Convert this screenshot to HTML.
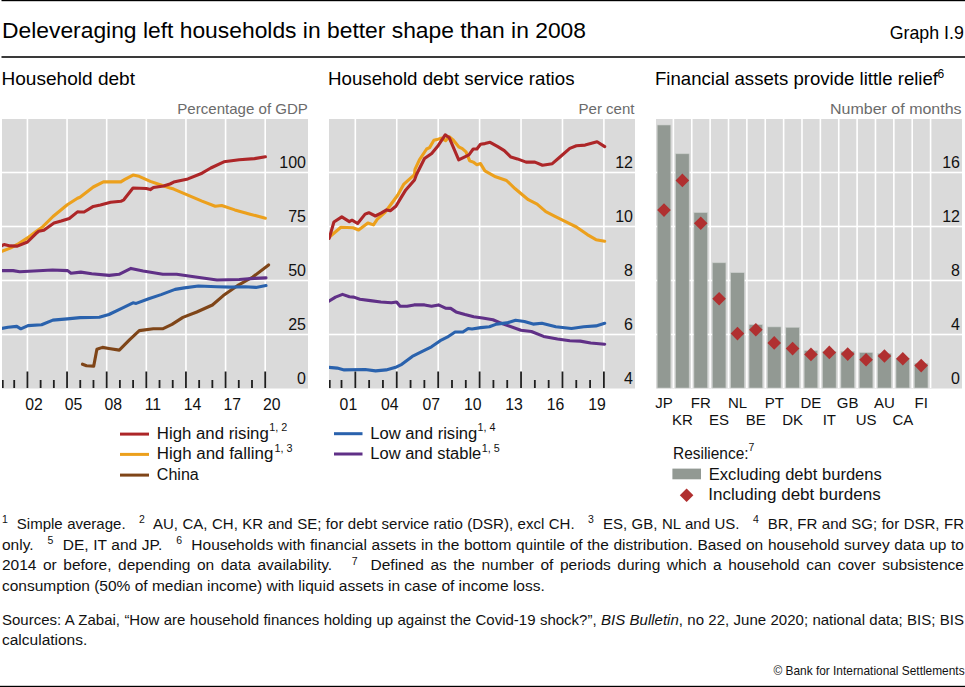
<!DOCTYPE html>
<html><head><meta charset="utf-8"><title>Graph I.9</title><style>
html,body{margin:0;padding:0;background:#fff;}
body{width:965px;height:687px;position:relative;overflow:hidden;font-family:"Liberation Sans",sans-serif;color:#111;}
svg{position:absolute;left:0;top:0;font-family:"Liberation Sans",sans-serif;}
.fn{position:absolute;left:2px;width:962px;font-size:15px;line-height:20px;white-space:nowrap;}
.j{text-align:justify;text-align-last:justify;}
.fn sup{font-size:10.5px;vertical-align:0;position:relative;top:-5.5px;line-height:0;}
</style></head><body>
<svg width="965" height="687" viewBox="0 0 965 687"><defs><clipPath id="c2"><rect x="2" y="119" width="306" height="269.5"/></clipPath><clipPath id="c329"><rect x="329" y="119" width="306" height="269.5"/></clipPath></defs>
<rect x="1.5" y="0" width="963.5" height="1.2" fill="#000"/>
<rect x="1.5" y="56" width="963.5" height="2" fill="#3a3a3a"/>
<rect x="0" y="685.8" width="965" height="1.2" fill="#000"/>
<text x="2" y="38.2" font-size="22.8" fill="#000" textLength="584" lengthAdjust="spacingAndGlyphs">Deleveraging left households in better shape than in 2008</text>
<text x="963.8" y="39" font-size="17.8" fill="#000" text-anchor="end">Graph I.9</text>
<text x="1.5" y="84.8" font-size="18.4" fill="#000" textLength="133.5" lengthAdjust="spacingAndGlyphs">Household debt</text>
<text x="328" y="84.8" font-size="18.4" fill="#000" textLength="246.5" lengthAdjust="spacingAndGlyphs">Household debt service ratios</text>
<text x="655" y="85.2" font-size="18.4" fill="#000" textLength="283" lengthAdjust="spacingAndGlyphs">Financial assets provide little relief</text>
<text x="937.5" y="78" font-size="12" fill="#000">6</text>
<text x="177.3" y="113.8" font-size="14.8" fill="#6b6b6b" textLength="130.6" lengthAdjust="spacingAndGlyphs">Percentage of GDP</text>
<text x="578.5" y="113.8" font-size="14.8" fill="#6b6b6b" textLength="56" lengthAdjust="spacingAndGlyphs">Per cent</text>
<text x="830" y="113.8" font-size="14.8" fill="#6b6b6b" textLength="131.6" lengthAdjust="spacingAndGlyphs">Number of months</text>
<rect x="2" y="119" width="306" height="269.5" fill="#dadada"/>
<g clip-path="url(#c2)">
<rect x="2" y="171.7" width="306" height="1.6" fill="#fff"/>
<rect x="2" y="225.7" width="306" height="1.6" fill="#fff"/>
<rect x="2" y="279.7" width="306" height="1.6" fill="#fff"/>
<rect x="2" y="333.7" width="306" height="1.6" fill="#fff"/>
<rect x="26.62" y="119" width="1.6" height="269" fill="#fff"/>
<rect x="66.25" y="119" width="1.6" height="269" fill="#fff"/>
<rect x="105.88" y="119" width="1.6" height="269" fill="#fff"/>
<rect x="145.51" y="119" width="1.6" height="269" fill="#fff"/>
<rect x="185.14" y="119" width="1.6" height="269" fill="#fff"/>
<rect x="224.77" y="119" width="1.6" height="269" fill="#fff"/>
<rect x="264.40" y="119" width="1.6" height="269" fill="#fff"/>
<polyline points="82.5,364.2 86.5,365.8 93.7,366.1 96.9,349.3 102.5,347.4 108.9,348.5 119.3,350.1 129.7,339.7 139.3,330.6 153.3,328.8 162.6,328.8 172.0,324.4 182.9,317.4 196.8,312.0 212.4,305.0 223.3,295.6 238.8,284.8 252.8,277.0 268.6,264.9" fill="none" stroke="#7f4518" stroke-width="3.1" stroke-linejoin="round" stroke-linecap="round"/>
<polyline points="2.0,251.2 10.2,248.1 17.3,244.5 27.5,237.9 35.7,231.8 42.8,226.7 53.0,216.5 67.3,204.8 77.5,198.2 80.0,197.2 93.3,187.0 103.4,181.9 120.8,181.9 124.9,179.4 133.0,175.1 139.1,176.3 150.3,181.4 159.5,184.5 170.0,188.0 173.7,189.1 189.0,195.7 202.0,201.1 215.2,206.2 221.7,205.5 234.8,209.9 250.1,214.2 265.4,218.2" fill="none" stroke="#eca01c" stroke-width="3.1" stroke-linejoin="round" stroke-linecap="round"/>
<polyline points="2.0,245.6 4.1,244.5 10.2,245.9 17.3,246.1 27.5,242.0 35.7,233.8 38.7,231.3 43.8,230.3 54.0,223.1 61.2,221.1 69.3,218.5 77.5,211.9 80.0,212.0 84.1,212.0 93.3,206.4 100.4,204.9 110.6,202.3 120.8,201.3 123.8,199.8 133.0,188.0 146.3,188.5 150.3,189.6 153.4,187.5 163.6,186.0 170.0,184.0 173.7,182.1 187.9,178.9 202.0,173.2 210.8,168.0 223.9,161.8 239.2,159.7 254.5,158.6 265.4,156.8" fill="none" stroke="#ad2628" stroke-width="3.1" stroke-linejoin="round" stroke-linecap="round"/>
<polyline points="2.2,270.6 13.1,270.6 19.7,271.7 52.4,270.0 67.7,270.6 71.0,273.2 80.8,272.1 91.7,273.7 109.2,275.4 119.0,274.3 131.0,268.4 143.1,271.0 162.8,274.3 176.6,274.2 192.2,276.5 217.0,280.0 239.2,279.5 254.4,278.4 266.0,277.9" fill="none" stroke="#603087" stroke-width="3.1" stroke-linejoin="round" stroke-linecap="round"/>
<polyline points="1.6,328.5 8.0,327.2 16.8,326.4 20.8,328.8 28.0,325.6 41.6,324.8 52.9,320.1 67.3,318.9 80.1,317.6 99.3,317.3 108.9,314.5 121.7,308.4 133.0,302.8 136.2,303.4 148.7,298.8 161.1,294.6 175.1,289.4 184.4,287.9 198.4,286.0 217.0,286.8 231.0,287.1 245.0,286.8 255.9,287.4 266.0,285.5" fill="none" stroke="#2a62ad" stroke-width="3.1" stroke-linejoin="round" stroke-linecap="round"/>
<rect x="1.85" y="380" width="1.8" height="8" fill="#1e1e1e"/>
<rect x="13.31" y="380" width="1.8" height="8" fill="#1e1e1e"/>
<rect x="26.52" y="371.5" width="1.8" height="16.5" fill="#1e1e1e"/>
<rect x="39.73" y="380" width="1.8" height="8" fill="#1e1e1e"/>
<rect x="52.94" y="380" width="1.8" height="8" fill="#1e1e1e"/>
<rect x="66.15" y="371.5" width="1.8" height="16.5" fill="#1e1e1e"/>
<rect x="79.36" y="380" width="1.8" height="8" fill="#1e1e1e"/>
<rect x="92.57" y="380" width="1.8" height="8" fill="#1e1e1e"/>
<rect x="105.78" y="371.5" width="1.8" height="16.5" fill="#1e1e1e"/>
<rect x="118.99" y="380" width="1.8" height="8" fill="#1e1e1e"/>
<rect x="132.20" y="380" width="1.8" height="8" fill="#1e1e1e"/>
<rect x="145.41" y="371.5" width="1.8" height="16.5" fill="#1e1e1e"/>
<rect x="158.62" y="380" width="1.8" height="8" fill="#1e1e1e"/>
<rect x="171.83" y="380" width="1.8" height="8" fill="#1e1e1e"/>
<rect x="185.04" y="371.5" width="1.8" height="16.5" fill="#1e1e1e"/>
<rect x="198.25" y="380" width="1.8" height="8" fill="#1e1e1e"/>
<rect x="211.46" y="380" width="1.8" height="8" fill="#1e1e1e"/>
<rect x="224.67" y="371.5" width="1.8" height="16.5" fill="#1e1e1e"/>
<rect x="237.88" y="380" width="1.8" height="8" fill="#1e1e1e"/>
<rect x="251.09" y="380" width="1.8" height="8" fill="#1e1e1e"/>
<rect x="264.30" y="371.5" width="1.8" height="16.5" fill="#1e1e1e"/>
</g>
<text x="34.0" y="409.5" font-size="15.8" fill="#111" text-anchor="middle">02</text>
<text x="73.6" y="409.5" font-size="15.8" fill="#111" text-anchor="middle">05</text>
<text x="113.3" y="409.5" font-size="15.8" fill="#111" text-anchor="middle">08</text>
<text x="152.9" y="409.5" font-size="15.8" fill="#111" text-anchor="middle">11</text>
<text x="192.5" y="409.5" font-size="15.8" fill="#111" text-anchor="middle">14</text>
<text x="232.2" y="409.5" font-size="15.8" fill="#111" text-anchor="middle">17</text>
<text x="271.8" y="409.5" font-size="15.8" fill="#111" text-anchor="middle">20</text>
<text x="306" y="167.8" font-size="16" fill="#111" text-anchor="end">100</text>
<text x="306" y="221.8" font-size="16" fill="#111" text-anchor="end">75</text>
<text x="306" y="275.8" font-size="16" fill="#111" text-anchor="end">50</text>
<text x="306" y="329.8" font-size="16" fill="#111" text-anchor="end">25</text>
<text x="306" y="383.8" font-size="16" fill="#111" text-anchor="end">0</text>
<rect x="329" y="119" width="306" height="269.5" fill="#dadada"/>
<g clip-path="url(#c329)">
<rect x="329" y="171.7" width="306" height="1.6" fill="#fff"/>
<rect x="329" y="225.7" width="306" height="1.6" fill="#fff"/>
<rect x="329" y="279.7" width="306" height="1.6" fill="#fff"/>
<rect x="329" y="333.7" width="306" height="1.6" fill="#fff"/>
<rect x="354.52" y="119" width="1.6" height="269" fill="#fff"/>
<rect x="395.95" y="119" width="1.6" height="269" fill="#fff"/>
<rect x="437.38" y="119" width="1.6" height="269" fill="#fff"/>
<rect x="478.81" y="119" width="1.6" height="269" fill="#fff"/>
<rect x="520.24" y="119" width="1.6" height="269" fill="#fff"/>
<rect x="561.67" y="119" width="1.6" height="269" fill="#fff"/>
<rect x="603.10" y="119" width="1.6" height="269" fill="#fff"/>
<polyline points="330.5,235.7 330.6,236.0 340.9,227.2 353.0,227.8 358.6,230.0 367.9,223.0 373.5,224.9 377.2,219.3 384.7,212.7 390.3,205.3 397.8,195.0 403.6,184.4 414.5,174.6 415.0,169.4 419.4,159.9 426.6,149.0 429.6,147.6 433.9,140.3 436.8,139.6 441.2,138.1 445.6,140.6 449.2,136.6 452.8,139.6 458.7,146.8 462.3,148.7 466.0,151.9 469.6,160.7 473.2,162.1 476.9,164.7 480.5,163.6 484.9,170.9 495.6,176.8 506.5,180.5 515.2,188.8 528.3,199.7 537.1,204.1 545.8,211.7 554.5,216.1 567.6,222.6 576.4,227.0 587.3,234.6 596.0,239.7 604.7,241.2" fill="none" stroke="#eca01c" stroke-width="3.1" stroke-linejoin="round" stroke-linecap="round"/>
<polyline points="328.9,237.9 329.2,238.4 333.9,222.0 341.8,216.9 349.3,221.6 352.0,220.2 357.6,223.5 365.1,214.1 368.8,212.7 375.4,216.0 381.0,213.2 386.6,209.9 390.3,210.7 395.9,206.2 401.5,196.9 405.8,189.9 414.5,180.0 416.5,174.5 424.5,158.5 431.7,153.4 438.3,145.4 445.2,134.8 449.2,137.7 458.7,159.9 468.9,154.8 473.2,149.0 476.9,149.0 480.5,144.3 484.9,143.6 490.1,142.3 497.8,146.6 504.3,150.6 510.9,157.1 517.4,158.9 526.1,162.1 534.9,162.1 542.5,165.2 552.3,163.7 561.1,156.0 569.8,148.4 576.4,145.8 585.1,145.1 597.1,141.8 604.7,146.6" fill="none" stroke="#ad2628" stroke-width="3.1" stroke-linejoin="round" stroke-linecap="round"/>
<polyline points="328.8,301.1 335.5,297.1 342.5,294.4 349.4,296.7 353.8,297.1 359.9,299.3 370.4,300.6 380.9,302.0 391.4,302.7 396.6,302.0 400.1,306.3 407.1,306.3 414.1,304.9 424.5,304.9 431.5,306.3 438.5,304.9 445.5,308.1 450.7,308.4 456.0,311.9 465.0,314.5 473.7,316.8 482.5,318.0 492.9,319.8 503.4,324.1 520.9,330.2 531.4,331.5 543.6,336.4 557.5,339.0 569.8,340.7 580.2,341.1 590.7,343.0 604.7,344.2" fill="none" stroke="#603087" stroke-width="3.1" stroke-linejoin="round" stroke-linecap="round"/>
<polyline points="328.8,367.4 337.2,368.1 344.2,369.9 365.2,369.5 375.6,370.9 386.1,369.9 396.6,366.9 401.8,364.3 412.3,356.4 422.8,351.2 431.5,346.8 440.2,340.7 447.2,337.2 455.1,332.0 462.9,332.0 468.2,328.5 472.0,329.0 480.7,327.6 489.4,326.7 496.4,324.1 506.9,322.9 515.6,320.3 524.4,321.5 533.1,324.1 541.8,323.3 555.8,326.7 571.5,328.5 583.7,326.7 596.0,325.9 604.7,323.3" fill="none" stroke="#2a62ad" stroke-width="3.1" stroke-linejoin="round" stroke-linecap="round"/>
<rect x="328.85" y="380" width="1.8" height="8" fill="#1e1e1e"/>
<rect x="340.61" y="380" width="1.8" height="8" fill="#1e1e1e"/>
<rect x="354.42" y="371.5" width="1.8" height="16.5" fill="#1e1e1e"/>
<rect x="368.23" y="380" width="1.8" height="8" fill="#1e1e1e"/>
<rect x="382.04" y="380" width="1.8" height="8" fill="#1e1e1e"/>
<rect x="395.85" y="371.5" width="1.8" height="16.5" fill="#1e1e1e"/>
<rect x="409.66" y="380" width="1.8" height="8" fill="#1e1e1e"/>
<rect x="423.47" y="380" width="1.8" height="8" fill="#1e1e1e"/>
<rect x="437.28" y="371.5" width="1.8" height="16.5" fill="#1e1e1e"/>
<rect x="451.09" y="380" width="1.8" height="8" fill="#1e1e1e"/>
<rect x="464.90" y="380" width="1.8" height="8" fill="#1e1e1e"/>
<rect x="478.71" y="371.5" width="1.8" height="16.5" fill="#1e1e1e"/>
<rect x="492.52" y="380" width="1.8" height="8" fill="#1e1e1e"/>
<rect x="506.33" y="380" width="1.8" height="8" fill="#1e1e1e"/>
<rect x="520.14" y="371.5" width="1.8" height="16.5" fill="#1e1e1e"/>
<rect x="533.95" y="380" width="1.8" height="8" fill="#1e1e1e"/>
<rect x="547.76" y="380" width="1.8" height="8" fill="#1e1e1e"/>
<rect x="561.57" y="371.5" width="1.8" height="16.5" fill="#1e1e1e"/>
<rect x="575.38" y="380" width="1.8" height="8" fill="#1e1e1e"/>
<rect x="589.19" y="380" width="1.8" height="8" fill="#1e1e1e"/>
<rect x="603.00" y="371.5" width="1.8" height="16.5" fill="#1e1e1e"/>
</g>
<text x="348.4" y="409.5" font-size="15.8" fill="#111" text-anchor="middle">01</text>
<text x="389.8" y="409.5" font-size="15.8" fill="#111" text-anchor="middle">04</text>
<text x="431.3" y="409.5" font-size="15.8" fill="#111" text-anchor="middle">07</text>
<text x="472.7" y="409.5" font-size="15.8" fill="#111" text-anchor="middle">10</text>
<text x="514.1" y="409.5" font-size="15.8" fill="#111" text-anchor="middle">13</text>
<text x="555.6" y="409.5" font-size="15.8" fill="#111" text-anchor="middle">16</text>
<text x="597.0" y="409.5" font-size="15.8" fill="#111" text-anchor="middle">19</text>
<text x="633" y="167.8" font-size="16" fill="#111" text-anchor="end">12</text>
<text x="633" y="221.8" font-size="16" fill="#111" text-anchor="end">10</text>
<text x="633" y="275.8" font-size="16" fill="#111" text-anchor="end">8</text>
<text x="633" y="329.8" font-size="16" fill="#111" text-anchor="end">6</text>
<text x="633" y="383.8" font-size="16" fill="#111" text-anchor="end">4</text>
<rect x="656" y="119" width="306" height="269.5" fill="#dadada"/>
<rect x="656" y="171.7" width="306" height="1.6" fill="#fff"/>
<rect x="656" y="225.7" width="306" height="1.6" fill="#fff"/>
<rect x="656" y="279.7" width="306" height="1.6" fill="#fff"/>
<rect x="656" y="333.7" width="306" height="1.6" fill="#fff"/>
<rect x="672.60" y="119" width="1.6" height="269" fill="#fff"/>
<rect x="690.97" y="119" width="1.6" height="269" fill="#fff"/>
<rect x="709.34" y="119" width="1.6" height="269" fill="#fff"/>
<rect x="727.71" y="119" width="1.6" height="269" fill="#fff"/>
<rect x="746.08" y="119" width="1.6" height="269" fill="#fff"/>
<rect x="764.45" y="119" width="1.6" height="269" fill="#fff"/>
<rect x="782.82" y="119" width="1.6" height="269" fill="#fff"/>
<rect x="801.19" y="119" width="1.6" height="269" fill="#fff"/>
<rect x="819.56" y="119" width="1.6" height="269" fill="#fff"/>
<rect x="837.93" y="119" width="1.6" height="269" fill="#fff"/>
<rect x="856.30" y="119" width="1.6" height="269" fill="#fff"/>
<rect x="874.67" y="119" width="1.6" height="269" fill="#fff"/>
<rect x="893.04" y="119" width="1.6" height="269" fill="#fff"/>
<rect x="911.41" y="119" width="1.6" height="269" fill="#fff"/>
<rect x="929.78" y="119" width="1.6" height="269" fill="#fff"/>
<rect x="657.20" y="125.0" width="13.6" height="263.0" fill="#929993" stroke="#c9cdca" stroke-width="0.6"/>
<rect x="675.57" y="153.8" width="13.6" height="234.2" fill="#929993" stroke="#c9cdca" stroke-width="0.6"/>
<rect x="693.94" y="212.6" width="13.6" height="175.4" fill="#929993" stroke="#c9cdca" stroke-width="0.6"/>
<rect x="712.31" y="262.8" width="13.6" height="125.2" fill="#929993" stroke="#c9cdca" stroke-width="0.6"/>
<rect x="730.68" y="272.7" width="13.6" height="115.3" fill="#929993" stroke="#c9cdca" stroke-width="0.6"/>
<rect x="749.05" y="324.6" width="13.6" height="63.4" fill="#929993" stroke="#c9cdca" stroke-width="0.6"/>
<rect x="767.42" y="326.9" width="13.6" height="61.1" fill="#929993" stroke="#c9cdca" stroke-width="0.6"/>
<rect x="785.79" y="327.3" width="13.6" height="60.7" fill="#929993" stroke="#c9cdca" stroke-width="0.6"/>
<rect x="804.16" y="350.5" width="13.6" height="37.5" fill="#929993" stroke="#c9cdca" stroke-width="0.6"/>
<rect x="822.53" y="351.3" width="13.6" height="36.7" fill="#929993" stroke="#c9cdca" stroke-width="0.6"/>
<rect x="840.90" y="351.3" width="13.6" height="36.7" fill="#929993" stroke="#c9cdca" stroke-width="0.6"/>
<rect x="859.27" y="352.5" width="13.6" height="35.5" fill="#929993" stroke="#c9cdca" stroke-width="0.6"/>
<rect x="877.64" y="353.3" width="13.6" height="34.7" fill="#929993" stroke="#c9cdca" stroke-width="0.6"/>
<rect x="896.01" y="358.6" width="13.6" height="29.4" fill="#929993" stroke="#c9cdca" stroke-width="0.6"/>
<rect x="914.38" y="363.3" width="13.6" height="24.7" fill="#929993" stroke="#c9cdca" stroke-width="0.6"/>
<rect x="659.20" y="205.30" width="9.6" height="9.6" fill="#b03030" transform="rotate(45 664.00 210.10)"/>
<text x="664.00" y="407.7" font-size="15" fill="#111" text-anchor="middle">JP</text>
<rect x="677.57" y="175.60" width="9.6" height="9.6" fill="#b03030" transform="rotate(45 682.37 180.40)"/>
<text x="682.37" y="424.8" font-size="15" fill="#111" text-anchor="middle">KR</text>
<rect x="695.94" y="218.50" width="9.6" height="9.6" fill="#b03030" transform="rotate(45 700.74 223.30)"/>
<text x="700.74" y="407.7" font-size="15" fill="#111" text-anchor="middle">FR</text>
<rect x="714.31" y="293.90" width="9.6" height="9.6" fill="#b03030" transform="rotate(45 719.11 298.70)"/>
<text x="719.11" y="424.8" font-size="15" fill="#111" text-anchor="middle">ES</text>
<rect x="732.68" y="328.80" width="9.6" height="9.6" fill="#b03030" transform="rotate(45 737.48 333.60)"/>
<text x="737.48" y="407.7" font-size="15" fill="#111" text-anchor="middle">NL</text>
<rect x="751.05" y="325.00" width="9.6" height="9.6" fill="#b03030" transform="rotate(45 755.85 329.80)"/>
<text x="755.85" y="424.8" font-size="15" fill="#111" text-anchor="middle">BE</text>
<rect x="769.42" y="338.10" width="9.6" height="9.6" fill="#b03030" transform="rotate(45 774.22 342.90)"/>
<text x="774.22" y="407.7" font-size="15" fill="#111" text-anchor="middle">PT</text>
<rect x="787.79" y="343.80" width="9.6" height="9.6" fill="#b03030" transform="rotate(45 792.59 348.60)"/>
<text x="792.59" y="424.8" font-size="15" fill="#111" text-anchor="middle">DK</text>
<rect x="806.16" y="349.60" width="9.6" height="9.6" fill="#b03030" transform="rotate(45 810.96 354.40)"/>
<text x="810.96" y="407.7" font-size="15" fill="#111" text-anchor="middle">DE</text>
<rect x="824.53" y="347.60" width="9.6" height="9.6" fill="#b03030" transform="rotate(45 829.33 352.40)"/>
<text x="829.33" y="424.8" font-size="15" fill="#111" text-anchor="middle">IT</text>
<rect x="842.90" y="349.30" width="9.6" height="9.6" fill="#b03030" transform="rotate(45 847.70 354.10)"/>
<text x="847.70" y="407.7" font-size="15" fill="#111" text-anchor="middle">GB</text>
<rect x="861.27" y="355.00" width="9.6" height="9.6" fill="#b03030" transform="rotate(45 866.07 359.80)"/>
<text x="866.07" y="424.8" font-size="15" fill="#111" text-anchor="middle">US</text>
<rect x="879.64" y="351.20" width="9.6" height="9.6" fill="#b03030" transform="rotate(45 884.44 356.00)"/>
<text x="884.44" y="407.7" font-size="15" fill="#111" text-anchor="middle">AU</text>
<rect x="898.01" y="354.00" width="9.6" height="9.6" fill="#b03030" transform="rotate(45 902.81 358.80)"/>
<text x="902.81" y="424.8" font-size="15" fill="#111" text-anchor="middle">CA</text>
<rect x="916.38" y="360.80" width="9.6" height="9.6" fill="#b03030" transform="rotate(45 921.18 365.60)"/>
<text x="921.18" y="407.7" font-size="15" fill="#111" text-anchor="middle">FI</text>
<text x="960" y="167.8" font-size="16" fill="#111" text-anchor="end">16</text>
<text x="960" y="221.8" font-size="16" fill="#111" text-anchor="end">12</text>
<text x="960" y="275.8" font-size="16" fill="#111" text-anchor="end">8</text>
<text x="960" y="329.8" font-size="16" fill="#111" text-anchor="end">4</text>
<text x="960" y="383.8" font-size="16" fill="#111" text-anchor="end">0</text>
<rect x="120" y="432.6" width="29" height="3" fill="#ad2628"/>
<text x="156.8" y="438.6" font-size="16" fill="#111" textLength="112" lengthAdjust="spacingAndGlyphs">High and rising</text>
<text x="269.2" y="431.1" font-size="10.8" fill="#111">1, 2</text>
<rect x="120" y="452.9" width="29" height="3" fill="#eca01c"/>
<text x="156.8" y="459.2" font-size="16" fill="#111" textLength="116.5" lengthAdjust="spacingAndGlyphs">High and falling</text>
<text x="274.6" y="451.7" font-size="10.8" fill="#111">1, 3</text>
<rect x="120" y="473.6" width="29" height="3" fill="#7f4518"/>
<text x="156.8" y="480" font-size="16" fill="#111" textLength="42" lengthAdjust="spacingAndGlyphs">China</text>
<rect x="334" y="432.2" width="28.5" height="3" fill="#2a62ad"/>
<text x="370.3" y="438.6" font-size="16" fill="#111" textLength="107" lengthAdjust="spacingAndGlyphs">Low and rising</text>
<text x="477.6" y="431.1" font-size="10.8" fill="#111">1, 4</text>
<rect x="334" y="452.5" width="28.5" height="3" fill="#603087"/>
<text x="370.3" y="459.2" font-size="16" fill="#111" textLength="111" lengthAdjust="spacingAndGlyphs">Low and stable</text>
<text x="481.7" y="451.7" font-size="10.8" fill="#111">1, 5</text>
<text x="673" y="459.4" font-size="15.8" fill="#111" textLength="75.5" lengthAdjust="spacingAndGlyphs">Resilience:</text>
<text x="748.5" y="450.8" font-size="10.5" fill="#111">7</text>
<rect x="672.4" y="468.6" width="28.6" height="10.7" fill="#929993"/>
<text x="708.8" y="479.9" font-size="15.6" fill="#111" textLength="173" lengthAdjust="spacingAndGlyphs">Excluding debt burdens</text>
<rect x="681.8" y="490.4" width="9.6" height="9.6" fill="#b03030" transform="rotate(45 686.6 495.2)"/>
<text x="708.2" y="500.3" font-size="15.6" fill="#111" textLength="172.5" lengthAdjust="spacingAndGlyphs">Including debt burdens</text>
<text x="964.6" y="675" font-size="11.9" fill="#111" text-anchor="end">© Bank for International Settlements</text>
</svg>
<div class="fn j" style="top:513.8px;font-size:15px"><sup>1</sup>&nbsp; Simple average. &nbsp; <sup>2</sup>&nbsp; AU, CA, CH, KR and SE; for debt service ratio (DSR), excl CH. &nbsp; <sup>3</sup>&nbsp; ES, GB, NL and US. &nbsp; <sup>4</sup>&nbsp; BR, FR and SG; for DSR, FR</div>
<div class="fn j" style="top:534.6px;font-size:15.5px">only. &nbsp; <sup>5</sup>&nbsp; DE, IT and JP. &nbsp; <sup>6</sup>&nbsp; Households with financial assets in the bottom quintile of the distribution. Based on household survey data up to</div>
<div class="fn j" style="top:555.2px;font-size:15.5px">2014 or before, depending on data availability. &nbsp; <sup>7</sup>&nbsp; Defined as the number of periods during which a household can cover subsistence</div>
<div class="fn" style="top:575.8px;font-size:15.5px">consumption (50% of median income) with liquid assets in case of income loss.</div>
<div class="fn j" style="top:609.7px">Sources: A Zabai, “How are household finances holding up against the Covid-19 shock?”, <i>BIS Bulletin</i>, no 22, June 2020; national data; BIS; BIS</div>
<div class="fn" style="top:630.2px;font-size:15.5px">calculations.</div>
</body></html>
